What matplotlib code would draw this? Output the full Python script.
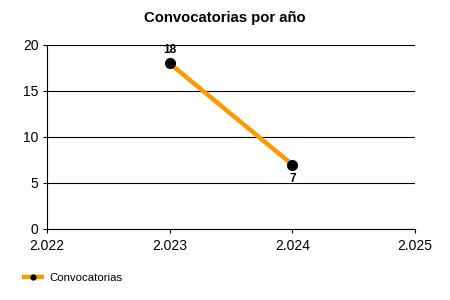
import matplotlib
matplotlib.use("Agg")
import matplotlib.pyplot as plt
from matplotlib.ticker import FuncFormatter

years = [2023, 2024]
values = [18, 7]
x_ticks = [2022, 2023, 2024, 2025]
y_ticks = [0, 5, 10, 15, 20]
series_name = "Convocatorias"
title = "Convocatorias por año"

plt.rcParams['font.family'] = ['Liberation Sans', 'DejaVu Sans']

fig = plt.figure(figsize=(4.5, 3), dpi=100)
ax = fig.add_axes([47/450, 71/300, 368/450, 184/300])

ax.plot(years, values, color='#FF9900', linewidth=3.2, marker='o',
        markersize=7, markerfacecolor='black', markeredgecolor='black',
        label=series_name, zorder=3, solid_capstyle='butt')

for x, y in zip(years, values):
    if y == max(values):
        ax.annotate(str(y), (x, y), xytext=(0, 5), textcoords='offset points',
                    ha='center', va='bottom', fontsize=8.5, fontweight='bold')
    else:
        ax.annotate(str(y), (x, y), xytext=(0, -6), textcoords='offset points',
                    ha='center', va='top', fontsize=8.5, fontweight='bold')

ax.set_xlim(2022, 2025)
ax.set_ylim(0, 20)
ax.set_xticks(x_ticks)
ax.set_yticks(y_ticks)
ax.xaxis.set_major_formatter(FuncFormatter(lambda v, p: f"{int(v):,}".replace(",", ".")))
ax.yaxis.grid(True, color='black', linewidth=0.8)
ax.set_axisbelow(True)
for s in ['top', 'right']:
    ax.spines[s].set_visible(False)
ax.spines['left'].set_linewidth(0.8)
ax.spines['bottom'].set_linewidth(0.8)
ax.tick_params(axis='both', labelsize=10, length=3, width=0.8)
ax.tick_params(axis='x', pad=4)
ax.tick_params(axis='y', pad=3)

fig.text(0.5, 1 - 18/300, title, ha='center', va='center', fontsize=10.7, fontweight='bold')

fig.legend(loc='center left', bbox_to_anchor=(0.048, 1 - 278/300), frameon=False,
           fontsize=8.2, handlelength=2.0, handletextpad=0.4, markerscale=0.5,
           borderaxespad=0, borderpad=0)

fig.savefig('out.png', dpi=100)
